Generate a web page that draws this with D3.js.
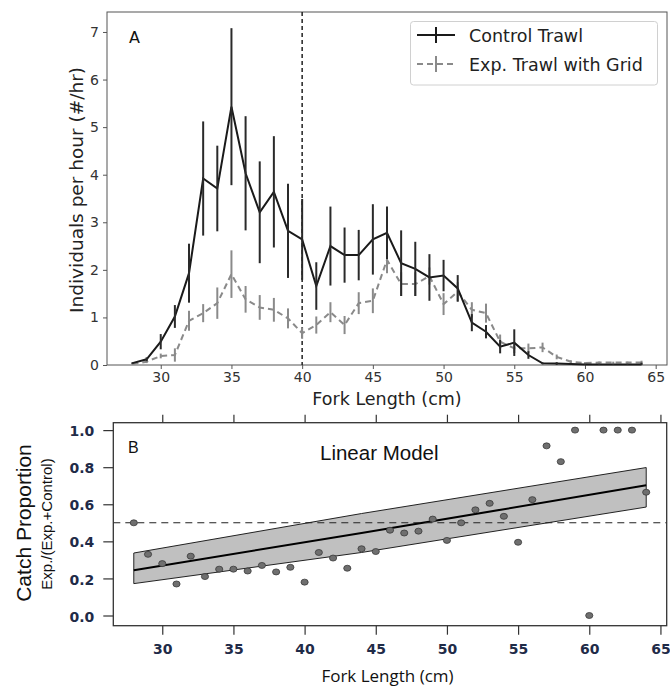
<!DOCTYPE html>
<html>
<head>
<meta charset="utf-8">
<script src="https://cdn.jsdelivr.net/npm/d3@7/dist/d3.min.js"></script>
<style>
  html, body { margin: 0; padding: 0; background: #fff; }
  svg { display: block; }
</style>
</head>
<body>
<svg id="fig" width="670" height="687"></svg>
<script>
// ---- data -------------------------------------------------------------
const forkLength = [28, 29, 30, 31, 32, 33, 34, 35, 36, 37, 38, 39, 40, 41, 42, 43, 44, 45, 46,
  47, 48, 49, 50, 51, 52, 53, 54, 55, 56, 57, 58, 59, 60, 61, 62, 63, 64];

// catch rate (individuals per hour) and error half-widths
const controlTrawl = [0.04, 0.12, 0.49, 1.02, 1.93, 3.92, 3.71, 5.43, 4.03, 3.21, 3.64, 2.82, 2.64,
  1.66, 2.50, 2.31, 2.31, 2.64, 2.78, 2.14, 2.02, 1.84, 1.88, 1.61, 0.89, 0.70, 0.385, 0.47,
  0.21, 0.035, 0.03, 0.02, 0.01, 0.01, 0.01, 0.01, 0.01];
const controlErr = [0.02, 0.04, 0.16, 0.24, 0.62, 1.2, 0.9, 1.65, 1.2, 1.07, 1.17, 0.99, 0.85,
  0.5, 0.83, 0.58, 0.53, 0.74, 0.55, 0.69, 0.57, 0.49, 0.33, 0.28, 0.18, 0.14, 0.14, 0.28,
  0.08, 0.02, 0.03, 0.01, 0.01, 0.01, 0.01, 0.01, 0.04];
const gridTrawl = [0.02, 0.07, 0.19, 0.21, 0.93, 1.09, 1.30, 1.91, 1.38, 1.21, 1.16, 0.98, 0.67,
  0.84, 1.11, 0.84, 1.30, 1.35, 2.21, 1.70, 1.70, 1.87, 1.28, 1.54, 1.16, 1.09, 0.49, 0.35,
  0.35, 0.37, 0.17, 0.07, 0.04, 0.05, 0.05, 0.05, 0.05];
const gridErr = [0.02, 0.03, 0.05, 0.14, 0.21, 0.19, 0.33, 0.5, 0.28, 0.26, 0.25, 0.21, 0.12,
  0.18, 0.21, 0.19, 0.23, 0.26, 0.28, 0.25, 0.25, 0.18, 0.23, 0.2, 0.16, 0.2, 0.15, 0.1,
  0.1, 0.1, 0.05, 0.03, 0.02, 0.02, 0.02, 0.02, 0.04];

// catch proportion Exp./(Exp.+Control) per length class
const catchProportion = [0.50, 0.33, 0.28, 0.17, 0.32, 0.21, 0.25, 0.25, 0.24, 0.27, 0.235, 0.26,
  0.18, 0.34, 0.31, 0.255, 0.36, 0.345, 0.46, 0.445, 0.455, 0.52, 0.405, 0.50, 0.57, 0.605,
  0.535, 0.395, 0.625, 0.915, 0.83, 1.0, 0.0, 1.0, 1.0, 1.0, 0.665];

// linear model fit with confidence band
const modelLength = [28, 44, 64];
const modelFit = [0.244, 0.445, 0.702];
const modelLower = [0.172, 0.34, 0.585];
const modelUpper = [0.337, 0.55, 0.798];

const xTicks = [30, 35, 40, 45, 50, 55, 60, 65];
const yTicksA = [0, 1, 2, 3, 4, 5, 6, 7];
const yTicksB = [0.0, 0.2, 0.4, 0.6, 0.8, 1.0];
const referenceLength = 40;
const referenceProportion = 0.5;

const svg = d3.select("#fig");

// ---- panel A ----------------------------------------------------------
const A = { left: 107, right: 667, top: 12, bottom: 365 };
const xA = d3.scaleLinear().domain([26.2, 65.8]).range([A.left, A.right]);
const yA = d3.scaleLinear().domain([0, 7.42]).range([A.bottom, A.top]);
const fontA = "'DejaVu Sans', sans-serif";

const gA = svg.append("g");

// axes
const axA_x = gA.append("g").attr("transform", `translate(0,${A.bottom})`)
  .call(d3.axisBottom(xA).tickValues(xTicks).tickSize(4).tickPadding(3).tickFormat(d3.format("d")));
const axA_y = gA.append("g").attr("transform", `translate(${A.left},0)`)
  .call(d3.axisLeft(yA).tickValues(yTicksA).tickSize(4).tickPadding(4).tickFormat(d3.format("d")));
[axA_x, axA_y].forEach(ax => {
  ax.select(".domain").remove();
  ax.selectAll(".tick line").attr("stroke", "#555").attr("stroke-width", 1);
  ax.selectAll(".tick text").attr("fill", "#333").style("font-family", fontA).style("font-size", "14px");
});

// frame
gA.append("rect").attr("x", A.left).attr("y", A.top)
  .attr("width", A.right - A.left).attr("height", A.bottom - A.top)
  .attr("fill", "none").attr("stroke", "#555").attr("stroke-width", 1);

// reference length
gA.append("line")
  .attr("x1", xA(referenceLength)).attr("x2", xA(referenceLength))
  .attr("y1", A.top).attr("y2", A.bottom)
  .attr("stroke", "#222").attr("stroke-width", 1.5).attr("stroke-dasharray", "4,3");

const rowsA = forkLength.map((L, i) => ({
  L, c: controlTrawl[i], ce: controlErr[i], g: gridTrawl[i], ge: gridErr[i]
}));

const gridColor = "#8a8a8a";
const ctrlColor = "#1a1a1a";

// experimental trawl (grid): dashed line + error bars
gA.append("path").datum(rowsA)
  .attr("fill", "none").attr("stroke", gridColor).attr("stroke-width", 2)
  .attr("stroke-dasharray", "6,4")
  .attr("d", d3.line().x(d => xA(d.L)).y(d => yA(d.g)));
gA.append("g").selectAll("line").data(rowsA).join("line")
  .attr("x1", d => xA(d.L)).attr("x2", d => xA(d.L))
  .attr("y1", d => yA(d.g - d.ge)).attr("y2", d => yA(d.g + d.ge))
  .attr("stroke", gridColor).attr("stroke-width", 2);

// control trawl: solid line + error bars
gA.append("path").datum(rowsA)
  .attr("fill", "none").attr("stroke", ctrlColor).attr("stroke-width", 2)
  .attr("d", d3.line().x(d => xA(d.L)).y(d => yA(d.c)));
gA.append("g").selectAll("line").data(rowsA).join("line")
  .attr("x1", d => xA(d.L)).attr("x2", d => xA(d.L))
  .attr("y1", d => yA(Math.max(0, d.c - d.ce))).attr("y2", d => yA(d.c + d.ce))
  .attr("stroke", "#2a2a2a").attr("stroke-width", 2);

// labels
gA.append("text").attr("x", 129).attr("y", 43).text("A")
  .style("font-family", fontA).style("font-size", "16px").attr("fill", "#111");
gA.append("text").attr("x", (A.left + A.right) / 2).attr("y", 405)
  .attr("text-anchor", "middle").text("Fork Length (cm)")
  .style("font-family", fontA).style("font-size", "17.5px").attr("fill", "#222");
gA.append("text")
  .attr("transform", `translate(83,190) rotate(-90)`)
  .attr("text-anchor", "middle").text("Individuals per hour (#/hr)")
  .style("font-family", fontA).style("font-size", "18.5px").attr("fill", "#222");

// legend
const lg = gA.append("g");
lg.append("rect").attr("x", 410.5).attr("y", 21.5).attr("width", 247).attr("height", 63.5)
  .attr("rx", 3).attr("fill", "#fff").attr("fill-opacity", 0.85)
  .attr("stroke", "#d0d0d0").attr("stroke-width", 1);
const legendItems = [
  { label: "Control Trawl", color: ctrlColor, dash: null, y: 35 },
  { label: "Exp. Trawl with Grid", color: gridColor, dash: "6,4", y: 64 }
];
legendItems.forEach(it => {
  lg.append("line").attr("x1", 417).attr("x2", 455).attr("y1", it.y).attr("y2", it.y)
    .attr("stroke", it.color).attr("stroke-width", 2).attr("stroke-dasharray", it.dash);
  lg.append("line").attr("x1", 436).attr("x2", 436).attr("y1", it.y - 8).attr("y2", it.y + 8)
    .attr("stroke", it.color).attr("stroke-width", 2);
  lg.append("text").attr("x", 469).attr("y", it.y + 6.5).text(it.label)
    .style("font-family", fontA).style("font-size", "17.5px").attr("fill", "#222");
});

// ---- panel B ----------------------------------------------------------
const B = { left: 113.3, right: 666.7, top: 422.7, bottom: 625.7 };
const xB = d3.scaleLinear().domain([26.56, 65.44]).range([B.left, B.right]);
const yB = d3.scaleLinear().domain([-0.055, 1.04]).range([B.bottom, B.top]);
const fontB = "'Liberation Sans', Arial, sans-serif";
const tickFontB = "'DejaVu Sans', sans-serif";
const tickColorB = "#1f2b48";

const gB = svg.append("g");

const axB_x = gB.append("g").attr("transform", `translate(0,${B.bottom})`)
  .call(d3.axisBottom(xB).tickValues(xTicks).tickSize(9).tickPadding(9).tickFormat(d3.format("d")));
const axB_top = gB.append("g").attr("transform", `translate(0,${B.top})`)
  .call(d3.axisTop(xB).tickValues(xTicks).tickSize(8).tickFormat(""));
const axB_y = gB.append("g").attr("transform", `translate(${B.left},0)`)
  .call(d3.axisLeft(yB).tickValues(yTicksB).tickSize(10).tickPadding(9).tickFormat(d3.format(".1f")));
[axB_x, axB_top, axB_y].forEach(ax => {
  ax.select(".domain").remove();
  ax.selectAll(".tick line").attr("stroke", "#333").attr("stroke-width", 1.2);
  ax.selectAll(".tick text").attr("fill", tickColorB)
    .style("font-family", tickFontB).style("font-weight", "bold").style("font-size", "14px");
});
axB_y.selectAll(".tick text").attr("dy", "0.4em");

// confidence band and fitted line
const band = modelLength.map((L, i) => ({ L, lo: modelLower[i], hi: modelUpper[i], fit: modelFit[i] }));
gB.append("path").datum(band)
  .attr("fill", "#c0c0c0").attr("stroke", "#222").attr("stroke-width", 1)
  .attr("d", d3.area().x(d => xB(d.L)).y0(d => yB(d.lo)).y1(d => yB(d.hi)));
gB.append("path").datum(band)
  .attr("fill", "none").attr("stroke", "#000").attr("stroke-width", 2)
  .attr("d", d3.line().x(d => xB(d.L)).y(d => yB(d.fit)));

// 50:50 reference
gB.append("line").attr("x1", B.left).attr("x2", B.right)
  .attr("y1", yB(referenceProportion)).attr("y2", yB(referenceProportion))
  .attr("stroke", "#222").attr("stroke-width", 1.1).attr("stroke-dasharray", "7,5");

// observed proportions
gB.append("g").selectAll("ellipse").data(forkLength.map((L, i) => ({ L, p: catchProportion[i] })))
  .join("ellipse")
  .attr("cx", d => xB(d.L)).attr("cy", d => yB(d.p))
  .attr("rx", 3.6).attr("ry", 3)
  .attr("fill", "#6f6f6f").attr("stroke", "#3a3a3a").attr("stroke-width", 0.8);

// frame
gB.append("rect").attr("x", B.left).attr("y", B.top)
  .attr("width", B.right - B.left).attr("height", B.bottom - B.top)
  .attr("fill", "none").attr("stroke", "#333").attr("stroke-width", 1.3);

// labels
gB.append("text").attr("x", 128).attr("y", 453).text("B")
  .style("font-family", fontB).style("font-size", "16px").attr("fill", "#111");
gB.append("text").attr("x", 320).attr("y", 460).text("Linear Model")
  .style("font-family", fontB).style("font-size", "20.5px").attr("fill", "#111");
gB.append("text").attr("transform", "translate(31,523) rotate(-90)")
  .attr("text-anchor", "middle").text("Catch Proportion")
  .style("font-family", fontB).style("font-size", "21px").attr("fill", "#111");
gB.append("text").attr("transform", "translate(52,524) rotate(-90)")
  .attr("text-anchor", "middle").text("Exp./(Exp.+Control)")
  .style("font-family", fontB).style("font-size", "15px").attr("fill", "#111");
gB.append("text").attr("x", 387.5).attr("y", 682).attr("text-anchor", "middle")
  .text("Fork Length (cm)")
  .style("font-family", "'Open Sans', sans-serif").style("font-size", "17px").attr("fill", "#111");
</script>
</body>
</html>
